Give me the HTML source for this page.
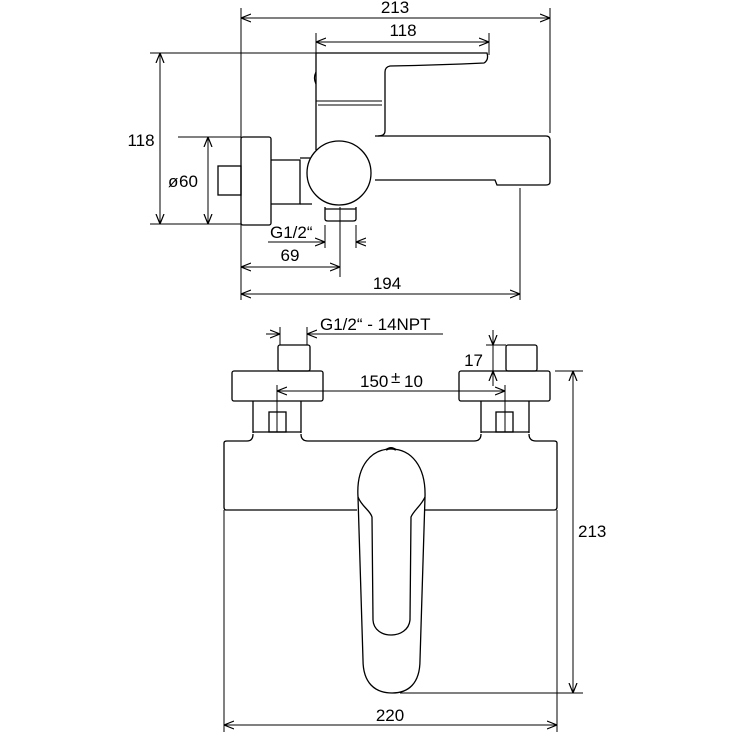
<!DOCTYPE html>
<html><head><meta charset="utf-8"><style>
html,body{margin:0;padding:0;background:#fff}
svg{display:block}
text{font-family:"Liberation Sans",Arial,sans-serif;font-size:17px;fill:#000}
</style></head><body>
<svg width="736" height="736" viewBox="0 0 736 736" xmlns="http://www.w3.org/2000/svg">
<defs>
<marker id="a" viewBox="0 0 10 10" refX="10" refY="5" markerWidth="10" markerHeight="10" orient="auto-start-reverse" markerUnits="userSpaceOnUse"><path d="M0,1 L10,5 L0,9" fill="none" stroke="#000" stroke-width="1.2"/></marker>
</defs>
<g fill="none" stroke="#000" stroke-width="1.3">
<line x1="241" y1="8" x2="241" y2="300" stroke-width="1"/>
<line x1="550" y1="8" x2="550" y2="133" stroke-width="1"/>
<line x1="316" y1="33" x2="316" y2="53" stroke-width="1"/>
<line x1="489" y1="33" x2="489" y2="55" stroke-width="1"/>
<line x1="150" y1="53" x2="316" y2="53" stroke-width="1"/>
<line x1="150" y1="224" x2="241" y2="224" stroke-width="1"/>
<line x1="178" y1="137" x2="241" y2="137" stroke-width="1"/>
<line x1="520" y1="188" x2="520" y2="300" stroke-width="1"/>
<line x1="340" y1="207" x2="340" y2="277" stroke-width="1"/>
<line x1="325" y1="225" x2="325" y2="248" stroke-width="1"/>
<line x1="356" y1="225" x2="356" y2="248" stroke-width="1"/>
<line x1="241" y1="18" x2="550" y2="18" stroke-width="1" marker-start="url(#a)" marker-end="url(#a)"/>
<line x1="316" y1="42" x2="489" y2="42" stroke-width="1" marker-start="url(#a)" marker-end="url(#a)"/>
<line x1="160" y1="53" x2="160" y2="224" stroke-width="1" marker-start="url(#a)" marker-end="url(#a)"/>
<line x1="208" y1="137" x2="208" y2="224" stroke-width="1" marker-start="url(#a)" marker-end="url(#a)"/>
<line x1="268" y1="242" x2="325" y2="242" stroke-width="1" marker-end="url(#a)"/>
<line x1="366" y1="242" x2="356" y2="242" stroke-width="1" marker-end="url(#a)"/>
<line x1="241" y1="267" x2="340" y2="267" stroke-width="1" marker-start="url(#a)" marker-end="url(#a)"/>
<line x1="241" y1="294" x2="520" y2="294" stroke-width="1" marker-start="url(#a)" marker-end="url(#a)"/>
<path d="M316 150 L316 53 L487 53 Q489 60 484 63 Q440 65 390 66 Q385 67 385 72 L385 131 Q385 136 378 136"/>
<path d="M316 101 L382 101 M318 105 L382 105" stroke-width="1.1"/>
<path d="M316 72 Q313 78 316 84"/>
<path d="M375 136 L546 136 Q550 136 550 140 L550 182 Q550 185 546 185 L497 185 L495 180 L375 180"/>
<circle cx="339" cy="173" r="32"/>
<rect x="241" y="137" width="30" height="88" rx="2"/>
<rect x="218" y="166" width="23" height="29"/>
<path d="M271 160 L300 160 L300 204 L271 204"/>
<path d="M300 158 L310 158 M300 204 L312 204"/>
<path d="M325 207 L325 219 Q325 221 328 221 L353 221 Q356 221 356 219 L356 207 M325 209 L356 209"/>

<line x1="280" y1="327" x2="280" y2="345" stroke-width="1"/>
<line x1="307" y1="327" x2="307" y2="345" stroke-width="1"/>
<line x1="266" y1="334" x2="280" y2="334" stroke-width="1" marker-end="url(#a)"/>
<line x1="443" y1="334" x2="307" y2="334" stroke-width="1" marker-end="url(#a)"/>
<line x1="486" y1="345" x2="506" y2="345" stroke-width="1"/>
<line x1="486" y1="371" x2="506" y2="371" stroke-width="1"/>
<line x1="493" y1="330" x2="493" y2="345" stroke-width="1" marker-end="url(#a)"/>
<line x1="493" y1="386" x2="493" y2="371" stroke-width="1" marker-end="url(#a)"/>
<line x1="493" y1="345" x2="493" y2="371" stroke-width="1"/>
<line x1="277" y1="385" x2="277" y2="432" stroke-width="1"/>
<line x1="505" y1="385" x2="505" y2="432" stroke-width="1"/>
<line x1="277" y1="391" x2="505" y2="391" stroke-width="1" marker-start="url(#a)" marker-end="url(#a)"/>
<line x1="555" y1="371" x2="583" y2="371" stroke-width="1"/>
<line x1="400" y1="693" x2="583" y2="693" stroke-width="1"/>
<line x1="573" y1="371" x2="573" y2="693" stroke-width="1" marker-start="url(#a)" marker-end="url(#a)"/>
<line x1="224" y1="510" x2="224" y2="732" stroke-width="1"/>
<line x1="557" y1="510" x2="557" y2="732" stroke-width="1"/>
<line x1="224" y1="725" x2="557" y2="725" stroke-width="1" marker-start="url(#a)" marker-end="url(#a)"/>
<rect x="278" y="345" width="32" height="26" rx="2"/>
<rect x="506" y="345" width="31" height="26" rx="2"/>
<rect x="232" y="371" width="91" height="30" rx="2"/>
<rect x="459" y="371" width="91" height="30" rx="2"/>
<path d="M253 401 L253 433 M301 401 L301 433 M253 432 L301 432"/>
<path d="M481 401 L481 433 M529 401 L529 433 M481 432 L529 432"/>
<rect x="269" y="412" width="17" height="20"/>
<rect x="496" y="412" width="17" height="20"/>
<path d="M357 510 L226 510 Q224 510 224 507 L224 443 Q224 441 227 441 L247 441 Q253 441 253 434 M301 434 Q301 441 308 441 L474 441 Q481 441 481 434 M529 434 Q529 441 536 441 L554 441 Q557 441 557 443 L557 507 Q557 510 554 510 L425 510"/>
<path d="M358 497 C356 465 372 449 391 449 C411 449 426 466 425 497 L420 660 C420 684 408 693 392 693 C375 693 363 683 363 660 Z"/>
<path d="M358 497 C362 507 370 510 372 517 L373 620 C374 640 408 640 410 620 L411 517 C414 510 421 506 425 497"/>
<path d="M386 450 Q391 446 396 450" stroke-width="2"/>
</g>
<g>
<text x="395" y="13" text-anchor="middle">213</text>
<text x="403" y="36" text-anchor="middle">118</text>
<text x="141" y="146" text-anchor="middle">118</text>
<text x="168" y="187" font-size="13">ø</text><text x="179" y="187">60</text>
<text x="270" y="238">G1/2“</text>
<text x="290" y="261" text-anchor="middle">69</text>
<text x="387" y="289" text-anchor="middle">194</text>
<text x="320" y="330">G1/2“ - 14NPT</text>
<text x="483" y="366" text-anchor="end">17</text>
<text x="360" y="387">150</text><text x="391" y="383" font-size="13">±</text><text x="404" y="387">10</text>
<text x="578" y="537">213</text>
<text x="390" y="721" text-anchor="middle">220</text>
</g>
</svg>
</body></html>
